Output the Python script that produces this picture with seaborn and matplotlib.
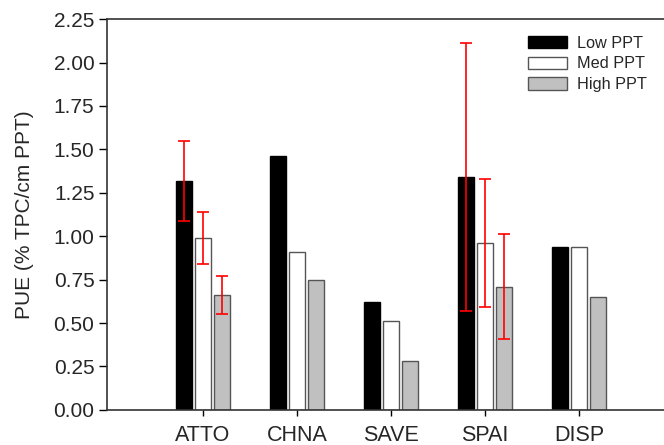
import pandas as pd
import seaborn as sns
import matplotlib.pyplot as plt
import numpy as np

sites = ["ATTO", "CHNA", "SAVE", "SPAI", "DISP"]
levels = ["Low PPT", "Med PPT", "High PPT"]
low_ppt = [1.32, 1.46, 0.62, 1.34, 0.94]
med_ppt = [0.99, 0.91, 0.51, 0.96, 0.94]
high_ppt = [0.66, 0.75, 0.28, 0.71, 0.65]
low_err = [0.23, np.nan, np.nan, 0.77, np.nan]
med_err = [0.15, np.nan, np.nan, 0.37, np.nan]
high_err = [0.11, np.nan, np.nan, 0.30, np.nan]

sns.set_style("ticks")
plt.rcParams["font.family"] = ["Liberation Sans", "DejaVu Sans"]

df = pd.DataFrame({
    "site": sites * 3,
    "level": [l for l in levels for _ in sites],
    "pue": low_ppt + med_ppt + high_ppt,
})
errs = [low_err, med_err, high_err]

fig = plt.figure(figsize=(6.64, 4.45), dpi=100)
ax = fig.add_axes([0.161, 0.079, 0.839, 0.878])

palette = {"Low PPT": "black", "Med PPT": "white", "High PPT": "#c0c0c0"}
sns.barplot(data=df, x="site", y="pue", hue="level", order=sites,
            hue_order=levels, palette=palette, width=0.6, gap=0.15,
            ax=ax, saturation=1, errorbar=None)

edges = ["black", "#555555", "#555555"]
for cont, err, ec in zip(ax.containers, errs, edges):
    xs, ys = [], []
    for bar in cont:
        bar.set_edgecolor(ec)
        bar.set_linewidth(1.0)
        xs.append(bar.get_x() + bar.get_width() / 2)
        ys.append(bar.get_height())
    ax.errorbar(xs, ys, yerr=err, fmt="none", ecolor="red",
                elinewidth=1.2, capsize=4, capthick=1.2, zorder=5)

ax.set_xlim(-1.02, 4.905)
ax.set_ylim(0, 2.25)
ax.set_yticks(np.arange(0, 2.26, 0.25))
ax.set_yticklabels([f"{v:.2f}" for v in np.arange(0, 2.26, 0.25)])
ax.set_xlabel("")
ax.set_ylabel("PUE (% TPC/cm PPT)", fontsize=15, labelpad=14)
ax.tick_params(axis="y", labelsize=15, length=6, color="black", width=1, pad=3)
ax.tick_params(axis="x", labelsize=15.5, length=4, color="black", width=1, pad=7)

for s in ["left", "bottom", "top"]:
    ax.spines[s].set_visible(True)
    ax.spines[s].set_color("#333333")
    ax.spines[s].set_linewidth(1.2)
ax.spines["right"].set_visible(False)

handles, labels = ax.get_legend_handles_labels()
for h, ec in zip(handles, edges):
    h.set_edgecolor(ec)
ax.legend(handles, labels, loc="upper right", bbox_to_anchor=(0.995, 0.995),
          frameon=False, fontsize=11.7, handlelength=2.4, handleheight=0.8,
          labelspacing=0.35, handletextpad=0.6)

plt.savefig("out.png", dpi=100)
